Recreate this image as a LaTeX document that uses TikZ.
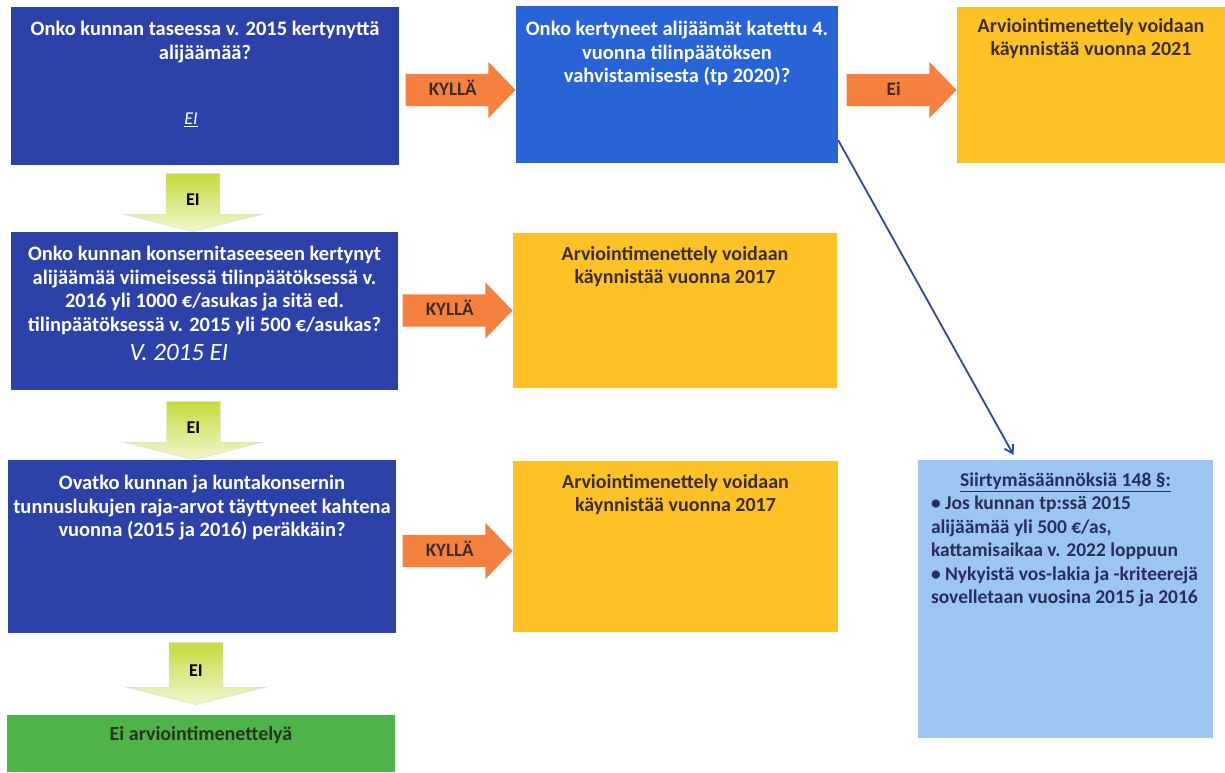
\documentclass[tikz,border=0pt]{standalone}
\usepackage{fontspec}
\setmainfont{Carlito}
\usetikzlibrary{shapes.arrows,arrows.meta}

\definecolor{qblue}{RGB}{45,66,168}
\definecolor{qbluelt}{RGB}{40,100,214}
\definecolor{ryellow}{RGB}{253,194,38}
\definecolor{korange}{RGB}{246,128,62}
\definecolor{eigreen}{RGB}{198,219,60}
\definecolor{rgreen}{RGB}{78,180,74}
\definecolor{notebl}{RGB}{156,197,240}
\definecolor{linebl}{RGB}{48,68,178}
\definecolor{ydark}{RGB}{62,44,44}
\definecolor{ndark}{RGB}{40,46,96}
\definecolor{gdark}{RGB}{40,52,28}

\begin{document}
\begin{tikzpicture}[x=1pt,y=-1pt,
    box/.style={rectangle,inner sep=0pt,draw=none},
    qtext/.style={text=white,font=\fontsize{20.5}{23.8}\selectfont\bfseries,align=center,inner sep=0pt,anchor=north},
    rtext/.style={qtext,text=ydark,font=\fontsize{20}{23}\selectfont\bfseries},
    kylla/.style={single arrow,fill=korange,minimum height=110pt,
      single arrow head extend=12pt,single arrow tip angle=92,inner xsep=2pt,inner ysep=9pt,
      text height=12pt,text depth=2pt,
      font=\fontsize{19}{19}\selectfont\bfseries,text=ydark,anchor=tip},
    eiarrow/.style={single arrow,shape border rotate=270,top color=eigreen,bottom color=eigreen!25!white,
      draw=gray!30,minimum height=58pt,single arrow head extend=42pt,
      single arrow tip angle=152,inner xsep=20pt,inner ysep=2pt,font=\fontsize{18}{18}\selectfont\bfseries,text=black,anchor=tip},
    conn/.style={draw=linebl,line width=1.8pt,-{Straight Barb[length=8pt,width=10pt]}}]

    \useasboundingbox (0,0) rectangle (1225,772);

    % boxes
    \node[box,fill=qblue,minimum width=388pt,minimum height=158pt] (q1) at (205,86) {};
    \node[box,fill=qbluelt,minimum width=322pt,minimum height=157pt] (q2) at (677,84.5) {};
    \node[box,fill=ryellow,minimum width=268pt,minimum height=156pt] (r1) at (1091,85) {};
    \node[box,fill=qblue,minimum width=387pt,minimum height=158pt] (q3) at (204.5,311) {};
    \node[box,fill=ryellow,minimum width=324pt,minimum height=155pt] (r2) at (675,310.5) {};
    \node[box,fill=qblue,minimum width=388pt,minimum height=173pt] (q4) at (202,546.5) {};
    \node[box,fill=ryellow,minimum width=325pt,minimum height=171pt] (r3) at (675.5,546.5) {};
    \node[box,fill=notebl,minimum width=295pt,minimum height=278pt] (note) at (1065.5,599) {};
    \node[box,fill=rgreen,minimum width=388pt,minimum height=57pt] (r4) at (201,743.5) {};

    % texts
    \node[qtext] (t1) at ([yshift=-14pt]q1.north) {Onko kunnan taseessa v. 2015 kertynyttä\\alijäämää?};
    \node[text=white,font=\fontsize{18}{18}\selectfont\itshape,inner sep=0pt] (t1ei) at ([xshift=-14pt,yshift=-34pt]q1.center) {\underline{EI}};
    \node[qtext] (t2) at ([yshift=-15pt]q2.north) {Onko kertyneet alijäämät katettu 4.\\vuonna tilinpäätöksen\\vahvistamisesta (tp 2020)?};
    \node[rtext] (tr1) at ([yshift=-11pt]r1.north) {Arviointimenettely voidaan\\käynnistää vuonna 2021};
    \node[qtext] (t3) at ([yshift=-14pt]q3.north) {Onko kunnan konsernitaseeseen kertynyt\\alijäämää viimeisessä tilinpäätöksessä v.\\2016 yli 1000 €/asukas ja sitä ed.\\tilinpäätöksessä v. 2015 yli 500 €/asukas?};
    \node[text=white,font=\fontsize{25}{25}\selectfont\itshape,inner sep=0pt] (t3ei) at ([xshift=-25.5pt,yshift=-41pt]q3.center) {V. 2015 EI};
    \node[rtext] (tr2) at ([yshift=-13pt]r2.north) {Arviointimenettely voidaan\\käynnistää vuonna 2017};
    \node[qtext] (t4) at ([yshift=-15pt]q4.north) {Ovatko kunnan ja kuntakonsernin\\tunnuslukujen raja-arvot täyttyneet kahtena\\vuonna (2015 ja 2016) peräkkäin?};
    \node[rtext] (tr3) at ([yshift=-13pt]r3.north) {Arviointimenettely voidaan\\käynnistää vuonna 2017};
    \node[rtext,text=ndark,font=\fontsize{19.5}{23.5}\selectfont\bfseries] (nt) at ([yshift=-13pt]note.north) {\underline{Siirtymäsäännöksiä 148 §:}};
    \node[rtext,text=ndark,font=\fontsize{19.5}{23.5}\selectfont\bfseries,align=left,anchor=north west] (nb) at ([xshift=13pt,yshift=-36pt]note.north west)
      {• Jos kunnan tp:ssä 2015\\alijäämää yli 500 €/as,\\kattamisaikaa v. 2022 loppuun\\• Nykyistä vos-lakia ja -kriteerejä\\sovelletaan vuosina 2015 ja 2016};
    \node[rtext,text=gdark] (tr4) at ([yshift=-11pt]r4.north) {Ei arviointimenettelyä};

    % arrows
    \node[kylla] (a1) at ([yshift=-5.5pt]q2.west) {KYLLÄ};
    \node[kylla] (a2) at (r2.west) {KYLLÄ};
    \node[kylla] (a3) at ([yshift=-4.5pt]r3.west) {KYLLÄ};
    \node[kylla] (a4) at ([yshift=-5pt]r1.west) {Ei};
    \node[eiarrow] (g1) at ([xshift=-11.5pt]q3.north) {EI};
    \node[eiarrow] (g2) at ([xshift=-8.5pt]q4.north) {EI};
    \node[eiarrow,minimum height=62pt] (g3) at ([xshift=-5pt,yshift=10pt]r4.north) {EI};

    \draw[conn] ([yshift=23pt]q2.south east) -- ([xshift=-52pt,yshift=5pt]note.north);

\end{tikzpicture}
\end{document}
